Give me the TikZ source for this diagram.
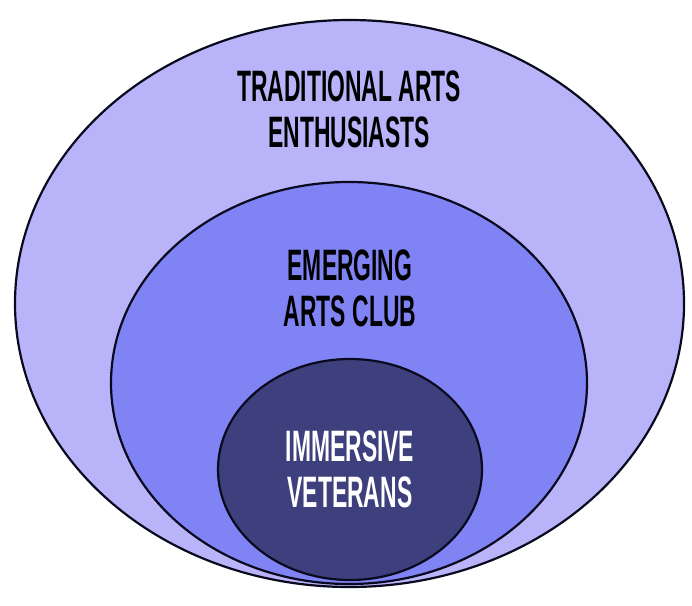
\documentclass[tikz,border=0pt]{standalone}
\usepackage{fontspec}
\usepackage{xcolor}
\usepackage{tikz}
\usetikzlibrary{shapes.geometric}
\newfontfamily\clubfont{Liberation Sans}[FakeStretch=0.52]
\definecolor{ringouter}{HTML}{B9B3FA}
\definecolor{ringmid}{HTML}{7F83F4}
\definecolor{ringcore}{HTML}{3E407D}
\definecolor{inkline}{HTML}{0A0A1E}

\begin{document}
\begin{tikzpicture}[x=1pt,y=-1pt,
  ring/.style={ellipse,draw=inkline,line width=2.2pt,inner sep=0pt},
  lab/.style={font=\clubfont\bfseries\fontsize{44}{46}\selectfont,align=center}]
  \useasboundingbox (0,0) rectangle (692,605);
  % nested groups
  \node[ring,fill=ringouter,minimum width=669pt,minimum height=567pt] (outer) at (349.5,303.5) {};
  \node[ring,fill=ringmid,minimum width=476pt,minimum height=402pt] (mid) at (349,383) {};
  \node[ring,fill=ringcore,minimum width=264pt,minimum height=221pt] (core) at (350,469.5) {};
  % labels
  \node[lab] (outerlab) at (349,109) {TRADITIONAL ARTS\\ENTHUSIASTS};
  \node[lab] (midlab) at (350,288) {EMERGING\\ARTS CLUB};
  \node[lab,text=white] (corelab) at (350,469) {IMMERSIVE\\VETERANS};
\end{tikzpicture}
\end{document}
